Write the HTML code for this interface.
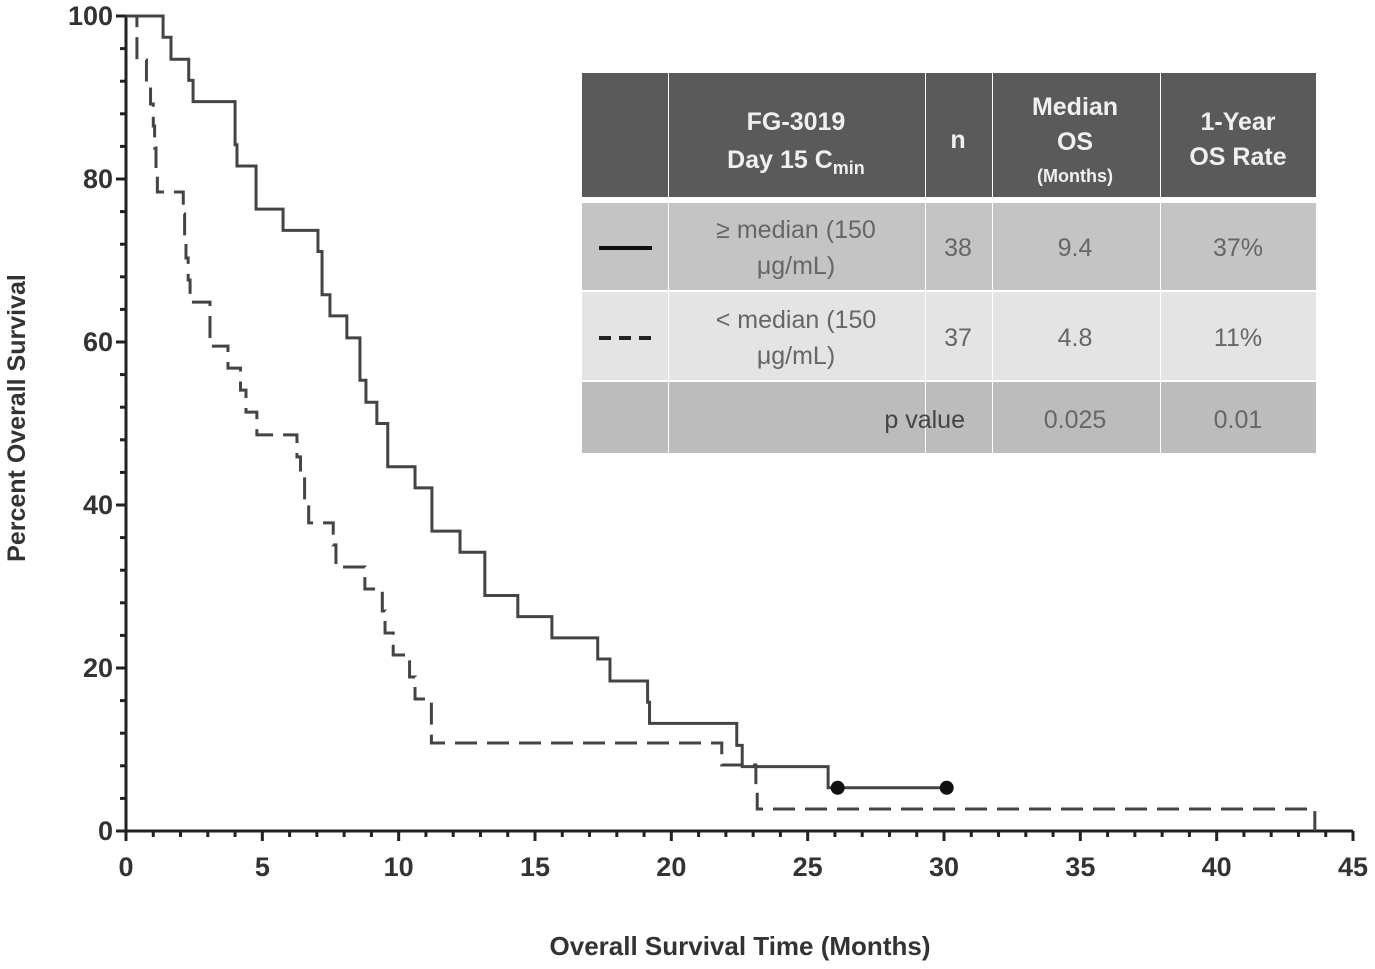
<!DOCTYPE html>
<html><head><meta charset="utf-8"><style>
body{margin:0;background:#fff;width:1375px;height:969px;overflow:hidden;font-family:"Liberation Sans",sans-serif}
svg{position:absolute;left:0;top:0}
text{font-family:"Liberation Sans",sans-serif}
</style></head><body>
<svg id="chart" width="1375" height="969" viewBox="0 0 1375 969"></svg>
<script>
const xTicks=[0,5,10,15,20,25,30,35,40,45];
const yTicks=[0,20,40,60,80,100];
// solid (>= median): step times and level after each step
const hiTimes=[1.36,1.65,2.3,2.46,4.0,4.07,4.77,5.76,7.04,7.19,7.48,8.1,8.58,8.8,9.2,9.6,10.6,11.22,12.25,13.16,14.37,15.62,17.3,17.75,19.13,19.2,22.4,22.6,25.75];
const hiLevels=[97.4,94.7,92.1,89.5,84.2,81.6,76.3,73.7,71.1,65.8,63.2,60.5,55.3,52.6,50,44.7,42.1,36.8,34.2,28.9,26.3,23.7,21.1,18.4,15.8,13.2,10.5,7.9,5.3];
const hiEnd=30.1;
const hiCensor=[26.1,30.1];
// dashed (< median)
const loTimes=[0.4,0.75,0.9,1.0,1.05,1.1,1.15,2.1,2.15,2.2,2.28,2.35,3.08,3.74,4.2,4.4,4.8,6.27,6.4,6.55,6.7,7.6,7.7,8.76,9.4,9.5,9.8,10.4,10.6,11.2,21.85,23.1,23.15,43.6];
const loLevels=[94.6,91.9,89.2,86.5,83.8,81.1,78.4,75.7,73,70.3,67.6,64.9,59.5,56.8,54.1,51.4,48.6,45.9,43.2,40.5,37.8,35.1,32.4,29.7,27,24.3,21.6,18.9,16.2,10.8,8.1,5.4,2.7,0];
const loEnd=43.6;

const X0=126,X1=1353,Y0=831,Y1=16;
const sx=t=>X0+(X1-X0)*t/45, sy=p=>Y0-(Y0-Y1)*p/100;
const svg=document.getElementById('chart'), NS='http://www.w3.org/2000/svg';
function mk(tag,attrs,parent){const e=document.createElementNS(NS,tag);for(const k in attrs)e.setAttribute(k,attrs[k]);(parent||svg).appendChild(e);return e;}

const ax=mk('path',{d:`M${X0},${Y1}V${Y0}H${X1}`,stroke:'#222','stroke-width':3,fill:'none'});


for(let t=0;t<=45;t++){const l=mk('line',{x1:sx(t),x2:sx(t),y1:Y0,y2:Y0+(t%5?6:10),stroke:'#222','stroke-width':3});

}
for(let p=0;p<=100;p+=4){const l=mk('line',{x1:X0-(p%20?6:10),x2:X0,y1:sy(p),y2:sy(p),stroke:'#222','stroke-width':3});

}
xTicks.forEach(t=>{const e=mk('text',{x:sx(t),y:876,'text-anchor':'middle','font-size':27,'font-weight':'bold',fill:'#333'});e.textContent=t;

});
yTicks.forEach(p=>{const e=mk('text',{x:113,y:sy(p)+9,'text-anchor':'end','font-size':27,'font-weight':'bold',fill:'#333'});e.textContent=p;

});
const xt=mk('text',{x:740,y:955,'text-anchor':'middle','font-size':26,'font-weight':'bold',fill:'#333'});xt.textContent='Overall Survival Time (Months)';


const yt=mk('text',{x:0,y:0,'text-anchor':'middle','font-size':25,'font-weight':'bold',fill:'#333',transform:'translate(25,418) rotate(-90)'});yt.textContent='Percent Overall Survival';



function stepPath(times,levels,end){let d=`M${sx(0)},${sy(100)}`;
times.forEach((t,i)=>{d+=`H${sx(t)}V${sy(levels[i])}`;});d+=`H${sx(end)}`;return d;}
const hi=mk('path',{d:stepPath(hiTimes,hiLevels,hiEnd),stroke:'#444','stroke-width':3,fill:'none'});


const lo=mk('path',{d:stepPath(loTimes,loLevels,loEnd),stroke:'#444','stroke-width':3,fill:'none','stroke-dasharray':'22,10'});


hiCensor.forEach(t=>{const c=mk('circle',{cx:sx(t),cy:sy(hiLevels[hiLevels.length-1]),r:7,fill:'#111'});

});

const cols=[582,668,925,992,1160,1316];
const rows=[[73,197,'#5a5a5a'],[203,290,'#c4c4c4'],[292,380,'#e4e4e4'],[382,453,'#bcbcbc']];
const g=mk('g',{});


rows.forEach(r=>{for(let i=0;i<5;i++){mk('rect',{x:cols[i]+(i?1:0),y:r[0],width:cols[i+1]-cols[i]-(i?1:0),height:r[1]-r[0],fill:r[2]},g);}});
function tx(x,y,s,o){const e=mk('text',Object.assign({x:x,y:y,'text-anchor':'middle','font-size':25},o||{}),g);e.innerHTML=s;return e;}
const W={fill:'#f0f0f0','font-weight':'bold'};
tx(796,130,'FG-3019',W);tx(796,168,'Day 15 C<tspan font-size="18" dy="6">min</tspan>',W);
tx(958,148,'n',W);
tx(1075,115,'Median',W);tx(1075,150,'OS',W);tx(1075,182,'(Months)',Object.assign({},W,{'font-size':18}));
tx(1238,130,'1-Year',W);tx(1238,165,'OS Rate',W);
const G={fill:'#666'};
tx(796,238,'≥ median (150',G);tx(796,274,'μg/mL)',G);tx(958,256,'38',G);tx(1075,256,'9.4',G);tx(1238,256,'37%',G);
tx(796,328,'&lt; median (150',G);tx(796,364,'μg/mL)',G);tx(958,346,'37',G);tx(1075,346,'4.8',G);tx(1238,346,'11%',G);
tx(965,428,'p value',{fill:'#444','text-anchor':'end'});tx(1075,428,'0.025',G);tx(1238,428,'0.01',G);
const ls=mk('line',{x1:599,x2:652,y1:248,y2:248,stroke:'#111','stroke-width':4},g);


const ld=mk('line',{x1:599,x2:652,y1:338,y2:338,stroke:'#222','stroke-width':4,'stroke-dasharray':'12,8'},g);


</script>
</body></html>
